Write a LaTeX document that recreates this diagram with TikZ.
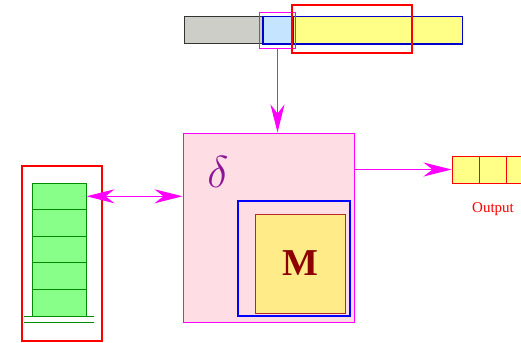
\documentclass[tikz,border=0pt]{standalone}
\usepackage{fontspec}
\setmainfont{Liberation Serif}
\usetikzlibrary{arrows.meta}
\definecolor{tapegray}{RGB}{206,206,200}
\definecolor{tapeblue}{RGB}{196,228,255}
\definecolor{tapeyellow}{RGB}{255,255,136}
\definecolor{ctrlpink}{RGB}{255,221,228}
\definecolor{memyellow}{RGB}{255,235,135}
\definecolor{memred}{RGB}{185,40,40}
\definecolor{darkred}{RGB}{140,0,0}
\definecolor{cellgreen}{RGB}{136,255,136}
\definecolor{deltapurple}{RGB}{140,20,150}
\definecolor{pinkline}{RGB}{255,0,255}
\tikzset{
  box/.style={draw, rectangle, inner sep=0pt, line width=1pt},
  link/.style={pinkline, line width=1pt, -{Stealth[length=28pt, width=14pt, inset=9pt]}},
}
\begin{document}
\begin{tikzpicture}[x=1pt, y=-1pt]
	\useasboundingbox (0,0) rectangle (521,342);
	% tape
	\node[box, fill=tapegray, draw=black!80, minimum width=79pt, minimum height=27pt] (TG) at (223.5,30.5) {};
	\node[box, fill=tapeblue, draw=blue!80!black, minimum width=30pt, minimum height=27pt] (TB) at (278,30.5) {};
	\node[box, fill=tapeyellow, draw=blue!80!black, minimum width=169pt, minimum height=27pt] (TY) at (377.5,30.5) {};
	\draw[blue!80!black, line width=1pt] (TB.north west) rectangle (TY.south east);
	\node[box, draw=pinkline, minimum width=36pt, minimum height=36pt] (H) at (277.5,31) {};
	\node[box, draw=red, line width=2.5pt, minimum width=120pt, minimum height=48pt] (W) at (352,29) {};
	% control
	\node[box, fill=ctrlpink, draw=pinkline, minimum width=171pt, minimum height=189pt] (D) at (268.5,227.5) {};
	\node[text=deltapurple, font=\fontsize{24.88}{25}\selectfont, scale=1.8] (d) at (218,172) {$\delta$};
	\node[box, draw=blue, line width=2.5pt, minimum width=112pt, minimum height=115pt] (C) at (294,258.5) {};
	\node[box, fill=memyellow, draw=memred, minimum width=90pt, minimum height=99pt, text=darkred, font=\fontsize{38}{38}\selectfont\bfseries] (M) at (300,263.5) {M};
	% stack
	\node[box, draw=red, line width=2.5pt, minimum width=80pt, minimum height=175pt] (S) at (62,253.5) {};
	\foreach \i in {1,...,5}
		\node[box, fill=cellgreen, draw=green!55!black, minimum width=54pt, minimum height=26.6pt] (S\i) at (59,{196.3+(\i-1)*26.6}) {};
	\coordinate (G1) at (24,316);
	\coordinate (G2) at (94,316);
	\coordinate (G3) at (24,322);
	\coordinate (G4) at (94,322);
	\draw[green!55!black, line width=1pt] (G1) -- (G2);
	\draw[green!55!black, line width=1pt] (G3) -- (G4);
	% output
	\foreach \i in {1,2,3}
		\node[box, fill=tapeyellow, draw=red, minimum width=27pt, minimum height=27pt] (O\i) at ({465.5+(\i-1)*27},169.5) {};
	\node[text=red, font=\fontsize{15}{15}\selectfont] (out) at (493,209) {Output};
	% arrows
	\draw[link] (H.south) -- (H.south |- D.north);
	\draw[link, {Stealth[length=28pt, width=14pt, inset=9pt]}-{Stealth[length=28pt, width=14pt, inset=9pt]}] (S1.east) -- (D.west |- S1.east);
	\draw[link] (D.east |- O1.west) -- (O1.west);
\end{tikzpicture}
\end{document}
